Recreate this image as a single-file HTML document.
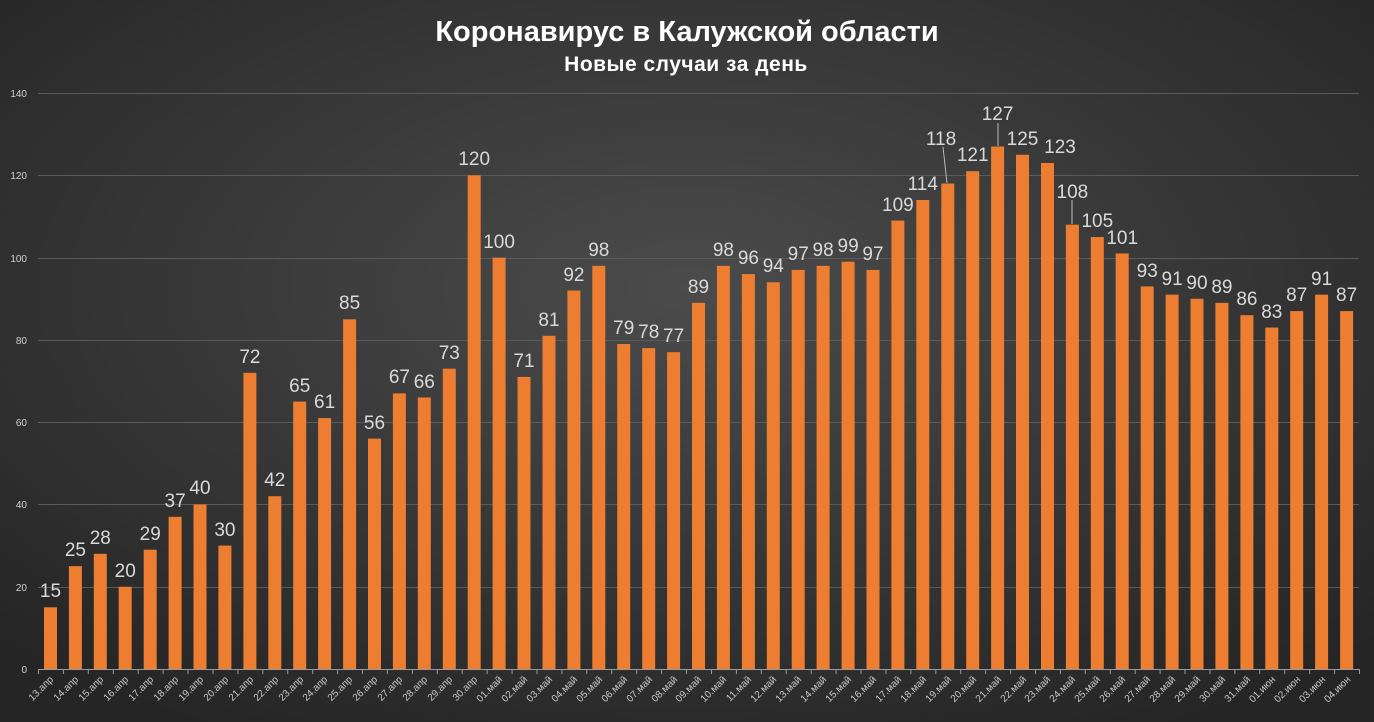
<!DOCTYPE html>
<html><head><meta charset="utf-8"><style>
html,body{margin:0;padding:0;width:1374px;height:722px;overflow:hidden}
svg{display:block}
</style></head><body>
<svg width="1374" height="722" xmlns="http://www.w3.org/2000/svg" font-family="'Liberation Sans', sans-serif">
<defs>
<radialGradient id="bg" cx="50%" cy="40%" r="70%">
<stop offset="0" stop-color="#4b4b4b"/><stop offset="1" stop-color="#252525"/>
</radialGradient>
</defs>
<rect width="1374" height="722" fill="url(#bg)"/>
<text x="687" y="41" text-anchor="middle" fill="#fff" font-size="29" font-weight="bold">Коронавирус в Калужской области</text>
<text x="686" y="71" text-anchor="middle" fill="#fff" font-size="21" font-weight="bold" letter-spacing="0.5">Новые случаи за день</text>
<g stroke="#5a5a5a" stroke-width="1">
<line x1="38" x2="1359" y1="93.5" y2="93.5"/><line x1="38" x2="1359" y1="175.5" y2="175.5"/><line x1="38" x2="1359" y1="258.5" y2="258.5"/><line x1="38" x2="1359" y1="340.5" y2="340.5"/><line x1="38" x2="1359" y1="422.5" y2="422.5"/><line x1="38" x2="1359" y1="504.5" y2="504.5"/><line x1="38" x2="1359" y1="587.5" y2="587.5"/>
</g>
<g fill="#d0d0d0" font-size="10" text-anchor="end">
<text x="27" y="97">140</text><text x="27" y="179">120</text><text x="27" y="262">100</text><text x="27" y="344">80</text><text x="27" y="426">60</text><text x="27" y="508">40</text><text x="27" y="591">20</text><text x="27" y="673">0</text>
</g>
<g transform="translate(0,669) scale(1,-4.114)" fill="#ed7d31">
<rect x="44" width="13" height="15"/><rect x="68.9" width="13" height="25"/><rect x="93.8" width="13" height="28"/><rect x="118.7" width="13" height="20"/><rect x="143.7" width="13" height="29"/><rect x="168.6" width="13" height="37"/><rect x="193.5" width="13" height="40"/><rect x="218.4" width="13" height="30"/><rect x="243.4" width="13" height="72"/><rect x="268.3" width="13" height="42"/><rect x="293.2" width="13" height="65"/><rect x="318.1" width="13" height="61"/><rect x="343.1" width="13" height="85"/><rect x="368" width="13" height="56"/><rect x="392.9" width="13" height="67"/><rect x="417.8" width="13" height="66"/><rect x="442.8" width="13" height="73"/><rect x="467.7" width="13" height="120"/><rect x="492.6" width="13" height="100"/><rect x="517.5" width="13" height="71"/><rect x="542.5" width="13" height="81"/><rect x="567.4" width="13" height="92"/><rect x="592.3" width="13" height="98"/><rect x="617.2" width="13" height="79"/><rect x="642.2" width="13" height="78"/><rect x="667.1" width="13" height="77"/><rect x="692" width="13" height="89"/><rect x="716.9" width="13" height="98"/><rect x="741.9" width="13" height="96"/><rect x="766.8" width="13" height="94"/><rect x="791.7" width="13" height="97"/><rect x="816.6" width="13" height="98"/><rect x="841.6" width="13" height="99"/><rect x="866.5" width="13" height="97"/><rect x="891.4" width="13" height="109"/><rect x="916.3" width="13" height="114"/><rect x="941.3" width="13" height="118"/><rect x="966.2" width="13" height="121"/><rect x="991.1" width="13" height="127"/><rect x="1016" width="13" height="125"/><rect x="1041" width="13" height="123"/><rect x="1065.9" width="13" height="108"/><rect x="1090.8" width="13" height="105"/><rect x="1115.7" width="13" height="101"/><rect x="1140.7" width="13" height="93"/><rect x="1165.6" width="13" height="91"/><rect x="1190.5" width="13" height="90"/><rect x="1215.4" width="13" height="89"/><rect x="1240.4" width="13" height="86"/><rect x="1265.3" width="13" height="83"/><rect x="1290.2" width="13" height="87"/><rect x="1315.1" width="13" height="91"/><rect x="1340.1" width="13" height="87"/>
</g>
<line x1="38" x2="1359" y1="669.5" y2="669.5" stroke="#9a9a9a"/>
<g stroke="#9a9a9a">
<path d="M38.5 669v5M63.4 669v5M88.3 669v5M113.3 669v5M138.2 669v5M163.1 669v5M188 669v5M213 669v5M237.9 669v5M262.8 669v5M287.7 669v5M312.7 669v5M337.6 669v5M362.5 669v5M387.4 669v5M412.4 669v5M437.3 669v5M462.2 669v5M487.1 669v5M512.1 669v5M537 669v5M561.9 669v5M586.8 669v5M611.8 669v5M636.7 669v5M661.6 669v5M686.5 669v5M711.5 669v5M736.4 669v5M761.3 669v5M786.2 669v5M811.2 669v5M836.1 669v5M861 669v5M885.9 669v5M910.9 669v5M935.8 669v5M960.7 669v5M985.6 669v5M1010.6 669v5M1035.5 669v5M1060.4 669v5M1085.3 669v5M1110.3 669v5M1135.2 669v5M1160.1 669v5M1185 669v5M1210 669v5M1234.9 669v5M1259.8 669v5M1284.7 669v5M1309.7 669v5M1334.6 669v5M1359.5 669v5"/>
<path d="M943 147L947 183M998 123L998 146M1072 200L1072 224" stroke="#bbb"/>
</g>
<g fill="#d9d9d9" font-size="19" text-anchor="middle">
<text x="50.5" y="597">15</text><text x="75.4" y="556">25</text><text x="100.3" y="544">28</text><text x="125.2" y="577">20</text><text x="150.2" y="540">29</text><text x="175.1" y="507">37</text><text x="200" y="494">40</text><text x="224.9" y="536">30</text><text x="249.9" y="363">72</text><text x="274.8" y="486">42</text><text x="299.7" y="392">65</text><text x="324.6" y="408">61</text><text x="349.6" y="309">85</text><text x="374.5" y="429">56</text><text x="399.4" y="383">67</text><text x="424.3" y="388">66</text><text x="449.3" y="359">73</text><text x="474.2" y="165">120</text><text x="499.1" y="248">100</text><text x="524" y="367">71</text><text x="549" y="326">81</text><text x="573.9" y="281">92</text><text x="598.8" y="256">98</text><text x="623.7" y="334">79</text><text x="648.7" y="338">78</text><text x="673.6" y="342">77</text><text x="698.5" y="293">89</text><text x="723.4" y="256">98</text><text x="748.4" y="264">96</text><text x="773.3" y="272">94</text><text x="798.2" y="260">97</text><text x="823.1" y="256">98</text><text x="848.1" y="252">99</text><text x="873" y="260">97</text><text x="897.9" y="211">109</text><text x="922.8" y="190">114</text><text x="941" y="145">118</text><text x="972.7" y="161">121</text><text x="997.6" y="120">127</text><text x="1022.5" y="145">125</text><text x="1060" y="153">123</text><text x="1072.4" y="198">108</text><text x="1097.3" y="227">105</text><text x="1122.2" y="244">101</text><text x="1147.2" y="277">93</text><text x="1172.1" y="285">91</text><text x="1197" y="289">90</text><text x="1221.9" y="293">89</text><text x="1246.9" y="305">86</text><text x="1271.8" y="318">83</text><text x="1296.7" y="301">87</text><text x="1321.6" y="285">91</text><text x="1346.6" y="301">87</text>
</g>
<g fill="#c8c8c8" font-size="10" text-anchor="end">
<text transform="translate(54,680) rotate(-45)">13.апр</text><text transform="translate(79,680) rotate(-45)">14.апр</text><text transform="translate(104,680) rotate(-45)">15.апр</text><text transform="translate(129,680) rotate(-45)">16.апр</text><text transform="translate(154,680) rotate(-45)">17.апр</text><text transform="translate(179,680) rotate(-45)">18.апр</text><text transform="translate(204,680) rotate(-45)">19.апр</text><text transform="translate(229,680) rotate(-45)">20.апр</text><text transform="translate(254,680) rotate(-45)">21.апр</text><text transform="translate(279,680) rotate(-45)">22.апр</text><text transform="translate(304,680) rotate(-45)">23.апр</text><text transform="translate(328,680) rotate(-45)">24.апр</text><text transform="translate(353,680) rotate(-45)">25.апр</text><text transform="translate(378,680) rotate(-45)">26.апр</text><text transform="translate(403,680) rotate(-45)">27.апр</text><text transform="translate(428,680) rotate(-45)">28.апр</text><text transform="translate(453,680) rotate(-45)">29.апр</text><text transform="translate(478,680) rotate(-45)">30.апр</text><text transform="translate(503,680) rotate(-45)">01.май</text><text transform="translate(528,680) rotate(-45)">02.май</text><text transform="translate(553,680) rotate(-45)">03.май</text><text transform="translate(578,680) rotate(-45)">04.май</text><text transform="translate(603,680) rotate(-45)">05.май</text><text transform="translate(628,680) rotate(-45)">06.май</text><text transform="translate(653,680) rotate(-45)">07.май</text><text transform="translate(678,680) rotate(-45)">08.май</text><text transform="translate(702,680) rotate(-45)">09.май</text><text transform="translate(727,680) rotate(-45)">10.май</text><text transform="translate(752,680) rotate(-45)">11.май</text><text transform="translate(777,680) rotate(-45)">12.май</text><text transform="translate(802,680) rotate(-45)">13.май</text><text transform="translate(827,680) rotate(-45)">14.май</text><text transform="translate(852,680) rotate(-45)">15.май</text><text transform="translate(877,680) rotate(-45)">16.май</text><text transform="translate(902,680) rotate(-45)">17.май</text><text transform="translate(927,680) rotate(-45)">18.май</text><text transform="translate(952,680) rotate(-45)">19.май</text><text transform="translate(977,680) rotate(-45)">20.май</text><text transform="translate(1002,680) rotate(-45)">21.май</text><text transform="translate(1027,680) rotate(-45)">22.май</text><text transform="translate(1051,680) rotate(-45)">23.май</text><text transform="translate(1076,680) rotate(-45)">24.май</text><text transform="translate(1101,680) rotate(-45)">25.май</text><text transform="translate(1126,680) rotate(-45)">26.май</text><text transform="translate(1151,680) rotate(-45)">27.май</text><text transform="translate(1176,680) rotate(-45)">28.май</text><text transform="translate(1201,680) rotate(-45)">29.май</text><text transform="translate(1226,680) rotate(-45)">30.май</text><text transform="translate(1251,680) rotate(-45)">31.май</text><text transform="translate(1276,680) rotate(-45)">01.июн</text><text transform="translate(1301,680) rotate(-45)">02.июн</text><text transform="translate(1326,680) rotate(-45)">03.июн</text><text transform="translate(1351,680) rotate(-45)">04.июн</text>
</g>
</svg>
</body></html>
